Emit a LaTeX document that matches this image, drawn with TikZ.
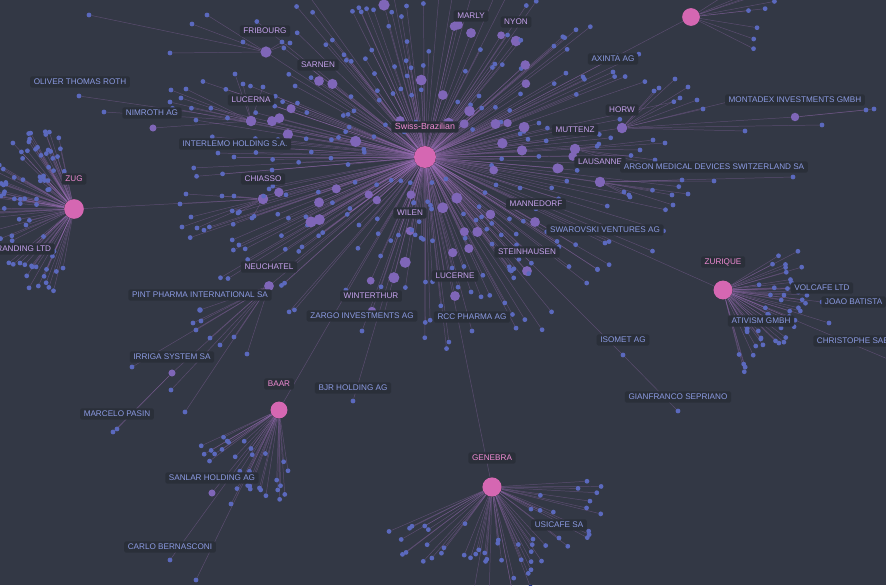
\documentclass[tikz,border=0pt]{standalone}
\usepackage{fontspec}
\setsansfont{Liberation Sans}
\usepackage{xcolor}
\definecolor{nwBg}{HTML}{333845}
\definecolor{nwTag}{HTML}{2A2F39}
\definecolor{nwBlue}{HTML}{5B69BE}
\definecolor{nwPurple}{HTML}{7F66B8}
\definecolor{nwPink}{HTML}{D567B2}
\definecolor{nwTie}{HTML}{A774C4}
\definecolor{nwBlueText}{HTML}{8C9BE3}
\definecolor{nwLilac}{HTML}{C6A2EE}
\definecolor{nwPinkText}{HTML}{F08BD4}
\pgfdeclarelayer{back}
\pgfdeclarelayer{ties}
\pgfsetlayers{back,ties,main}
\tikzset{
  hub/.style={circle,fill=nwPink,inner sep=0pt,minimum size=#1},
  mid/.style={circle,fill=nwPurple,inner sep=0pt,minimum size=#1},
  mid/.default=7pt,
  leaf/.style={circle,fill=nwBlue,inner sep=0pt,minimum size=#1},
  leaf/.default=3.4pt,
  tie/.style={draw=nwTie,line width=0.35pt,draw opacity=0.34},
  tag/.style={fill=nwTag,rounded corners=1.2pt,inner xsep=2.6pt,inner ysep=2pt,
    text height=4.1pt,text depth=0pt,font=\sffamily\fontsize{5.8}{6}\selectfont},
  hubtag/.style={tag,text=nwPinkText},
  citytag/.style={tag,text=nwLilac},
  firmtag/.style={tag,text=nwBlueText},
}

\begin{document}
\begin{tikzpicture}[x=0.025cm,y=-0.025cm]
  \useasboundingbox (0,0) rectangle (886,585);
  \begin{pgfonlayer}{back}
    \fill[nwBg] (0,0) rectangle (886,585);
  \end{pgfonlayer}
  \pgfmathsetseed{2024}

  % hubs
  \node[hub=15.6pt] (swiss) at (425,157) {};
  \node[hub=14pt] (zug) at (74,209) {};
  \node[hub=13.4pt] (zurique) at (723,290) {};
  \node[hub=12pt] (baar) at (279,410) {};
  \node[hub=13.6pt] (genebra) at (492,487) {};
  \node[hub=12.6pt] (tophub) at (691,17) {};

  % cities
  \node[mid=8pt] (topmid) at (384,5) {};
  \node[mid=8pt] (fribourg) at (266,52) {};
  \node[mid] (sarnen) at (319,81) {};
  \node[mid=7.5pt] (lucerna) at (251,121) {};
  \node[mid] (marly) at (471,33) {};
  \node[mid=7.5pt] (nyon) at (516,41) {};
  \node[mid=7.5pt] (chiasso) at (263,199) {};
  \node[mid] (neuchatel) at (269,286) {};
  \node[mid=6pt] (wilen) at (410,231) {};
  \node[mid] (lucerne) at (455,296) {};
  \node[mid=6pt] (winterthur) at (372,311) {};
  \node[mid=7.5pt] (muttenz) at (575,149) {};
  \node[mid=7.5pt] (horw) at (622,128) {};
  \node[mid=7.5pt] (lausanne) at (600,182) {};
  \node[mid] (mannedorf) at (535,222) {};
  \node[mid] (steinhausen) at (527,271) {};

  % firms and people
  \node[leaf] (oliver) at (79,96) {};
  \node[mid=5pt] (nimroth) at (153,128) {};
  \node[leaf] (interlemo) at (234,157) {};
  \node[leaf] (axinta) at (613,72) {};
  \node[mid=6pt] (montadex) at (795,117) {};
  \node[leaf] (argon) at (714,181) {};
  \node[leaf] (swarovski) at (605,243) {};
  \node[leaf] (volcafe) at (822,302) {};
  \node[leaf] (joao) at (829,323) {};
  \node[leaf] (christophe) at (895,362) {};
  \node[leaf] (ativism) at (761,338) {};
  \node[leaf] (isomet) at (623,355) {};
  \node[leaf] (gianfranco) at (678,411) {};
  \node[leaf] (zargo) at (362,331) {};
  \node[leaf] (rcc) at (472,331) {};
  \node[leaf=4pt] (pint) at (200,310) {};
  \node[mid=5pt] (irriga) at (172,373) {};
  \node[leaf] (bjr) at (353,401) {};
  \node[leaf] (marcelo) at (117,429) {};
  \node[mid=5pt] (sanlar) at (212,493) {};
  \node[leaf] (carlo) at (170,560) {};
  \node[leaf] (usicafe) at (559,538) {};
  \node[leaf] (branding) at (20,263) {};

  % spray round Swiss-Brazilian
  \foreach \i in {1,...,290}{
    \pgfmathsetmacro\ang{360*rnd}
    \pgfmathsetmacro\u{rnd}
    \pgfmathsetmacro\rad{22+172*(0.5*\u+0.5*sqrt(\u))}
    \node[leaf] (sb\i) at ({425+1.35*\rad*cos(\ang)},{157+\rad*sin(\ang)}) {};
  }
  \foreach \i in {1,...,44}{
    \pgfmathsetmacro\ang{360*rnd}
    \pgfmathsetmacro\rad{30+110*rnd}
    \pgfmathsetmacro\sz{5.5+2.5*rnd}
    \node[mid=\sz pt] (sm\i) at ({425+1.3*\rad*cos(\ang)},{157+\rad*sin(\ang)}) {};
  }

  % other hubs
  \foreach \i in {1,...,90}{
    \pgfmathsetmacro\ang{100+160*rnd}
    \pgfmathsetmacro\rad{22+70*sqrt(rnd)}
    \node[leaf] (zg\i) at ({74+\rad*cos(\ang)},{209+\rad*sin(\ang)}) {};
  }
  \foreach \i in {1,...,50}{
    \pgfmathsetmacro\ang{-38+118*rnd}
    \pgfmathsetmacro\rad{30+55*sqrt(rnd)}
    \node[leaf] (zr\i) at ({723+\rad*cos(\ang)},{290+\rad*sin(\ang)}) {};
  }
  \foreach \i in {1,...,30}{
    \pgfmathsetmacro\ang{80+80*rnd}
    \pgfmathsetmacro\rad{35+55*sqrt(rnd)}
    \node[leaf] (br\i) at ({279+\rad*cos(\ang)},{410+\rad*sin(\ang)}) {};
  }
  \foreach \i in {1,...,55}{
    \pgfmathsetmacro\ang{-8+168*rnd}
    \pgfmathsetmacro\rad{28+85*sqrt(rnd)}
    \node[leaf] (gn\i) at ({492+\rad*cos(\ang)},{487+\rad*sin(\ang)}) {};
  }
  \foreach \i in {1,...,10}{
    \pgfmathsetmacro\ang{-35+65*rnd}
    \pgfmathsetmacro\rad{55+35*rnd}
    \node[leaf] (th\i) at ({691+\rad*cos(\ang)},{17+\rad*sin(\ang)}) {};
  }

  % leaves hanging on cities
  \foreach \x/\y [count=\k] in {89/15,170/53,192/24,207/15,243/42,282/42,290/43}
    \node[leaf] (fr\k) at (\x,\y) {};
  \foreach \x/\y [count=\k] in {104/112,171/90,181/98,186/89,170/102,235/74,243/84,263/87}
    \node[leaf] (lc\k) at (\x,\y) {};
  \foreach \x/\y [count=\k] in {186/194,180/204,191/217,182/227,197/228,222/196,234/196,238/213,252/218}
    \node[leaf] (ch\k) at (\x,\y) {};
  \foreach \x/\y [count=\k] in {654/91,675/79,688/87,659/88,680/98,697/100,703/109,745/131,822/125,744/98}
    \node[leaf] (hw\k) at (\x,\y) {};
  \foreach \x/\y [count=\k] in {866/110,874/109}
    \node[leaf] (md\k) at (\x,\y) {};
  \foreach \x/\y [count=\k] in {653/140,665/143,655/160,665/166,640/150,610/160}
    \node[leaf] (mt\k) at (\x,\y) {};
  \foreach \x/\y [count=\k] in {682/180,793/177,672/195,673/205,624/192,630/197,688/194}
    \node[leaf] (ls\k) at (\x,\y) {};
  \foreach \x/\y [count=\k] in {193/323,196/330,201/321,210/338,220/345,234/337,247/354,132/367,171/390,185/412}
    \node[leaf] (nc\k) at (\x,\y) {};
  \foreach \x/\y [count=\k] in {113/432,196/580,231/504}
    \node[leaf] (ex\k) at (\x,\y) {};

  \begin{pgfonlayer}{ties}
    \foreach \n in {topmid,fribourg,sarnen,lucerna,marly,nyon,chiasso,neuchatel,
        wilen,lucerne,winterthur,muttenz,horw,lausanne,mannedorf,steinhausen,
        interlemo,axinta,swarovski,zargo,rcc,isomet,bjr,zurique,baar,genebra,tophub}
      \draw[tie] (swiss) -- (\n);
    \draw[tie] (zug) -- (chiasso);
    \draw[tie] (zug) -- (branding);
    \draw[tie] (lucerna) -- (oliver);
    \draw[tie] (lucerna) -- (nimroth);
    \draw[tie] (horw) -- (montadex);
    \draw[tie] (lausanne) -- (argon);
    \draw[tie] (neuchatel) -- (pint);
    \draw[tie] (neuchatel) -- (irriga);
    \draw[tie] (irriga) -- (marcelo);
    \draw[tie] (isomet) -- (gianfranco);
    \foreach \n in {volcafe,joao,christophe,ativism}
      \draw[tie] (zurique) -- (\n);
    \draw[tie] (genebra) -- (usicafe);
    \draw[tie] (baar) -- (sanlar);
    \draw[tie] (baar) -- (carlo);
    \draw[tie] (irriga) -- (ex1);
    \draw[tie] (baar) -- (ex2);
    \draw[tie] (baar) -- (ex3);
    \foreach \i in {1,...,290} \draw[tie] (swiss) -- (sb\i);
    \foreach \i in {1,...,44} \draw[tie] (swiss) -- (sm\i);
    \foreach \i in {1,...,90} \draw[tie] (zug) -- (zg\i);
    \foreach \i in {1,...,50} \draw[tie] (zurique) -- (zr\i);
    \foreach \i in {1,...,30} \draw[tie] (baar) -- (br\i);
    \foreach \i in {1,...,55} \draw[tie] (genebra) -- (gn\i);
    \foreach \i in {1,...,10} \draw[tie] (tophub) -- (th\i);
    \foreach \i in {1,...,7} \draw[tie] (fribourg) -- (fr\i);
    \foreach \i in {1,...,8} \draw[tie] (lucerna) -- (lc\i);
    \foreach \i in {1,...,9} \draw[tie] (chiasso) -- (ch\i);
    \foreach \i in {1,...,10} \draw[tie] (horw) -- (hw\i);
    \foreach \i in {1,2} \draw[tie] (montadex) -- (md\i);
    \foreach \i in {1,...,6} \draw[tie] (muttenz) -- (mt\i);
    \foreach \i in {1,...,7} \draw[tie] (lausanne) -- (ls\i);
    \foreach \i in {1,...,10} \draw[tie] (neuchatel) -- (nc\i);
  \end{pgfonlayer}

  % labels
  \node[hubtag,font=\sffamily\fontsize{6.3}{7}\selectfont] (swisstag) at (425,127) {Swiss-Brazilian};
  \node[hubtag] (zugtag) at (74,179) {ZUG};
  \node[hubtag] (zuriquetag) at (723,262) {ZURIQUE};
  \node[hubtag] (baartag) at (279,384) {BAAR};
  \node[hubtag] (genebratag) at (492,458) {GENEBRA};

  \node[citytag] (fribourgtag) at (265,31) {FRIBOURG};
  \node[citytag] (sarnentag) at (318,65) {SARNEN};
  \node[citytag] (lucernatag) at (251,100) {LUCERNA};
  \node[citytag] (marlytag) at (471,16) {MARLY};
  \node[citytag] (nyontag) at (516,22) {NYON};
  \node[citytag] (chiassotag) at (263,179) {CHIASSO};
  \node[citytag] (neuchateltag) at (269,267) {NEUCHATEL};
  \node[citytag] (wilentag) at (410,213) {WILEN};
  \node[citytag] (lucernetag) at (455,276) {LUCERNE};
  \node[citytag] (winterthurtag) at (371,296) {WINTERTHUR};
  \node[citytag] (muttenztag) at (575,130) {MUTTENZ};
  \node[citytag] (horwtag) at (622,110) {HORW};
  \node[citytag] (lausannetag) at (600,162) {LAUSANNE};
  \node[citytag] (mannedorftag) at (536,204) {MANNEDORF};
  \node[citytag] (steinhausentag) at (527,252) {STEINHAUSEN};
  \node[citytag,anchor=east] (brandingtag) at (55,249) {RANDING LTD};

  \node[firmtag] (olivertag) at (80,82) {OLIVER THOMAS ROTH};
  \node[firmtag] (nimrothtag) at (152,113) {NIMROTH AG};
  \node[firmtag] (interlemotag) at (235,144) {INTERLEMO HOLDING S.A.};
  \node[firmtag] (axintatag) at (613,59) {AXINTA AG};
  \node[firmtag] (montadextag) at (795,100) {MONTADEX INVESTMENTS GMBH};
  \node[firmtag] (argontag) at (714,167) {ARGON MEDICAL DEVICES SWITZERLAND SA};
  \node[firmtag] (swarovskitag) at (605,230) {SWAROVSKI VENTURES AG};
  \node[firmtag] (volcafetag) at (822,288) {VOLCAFE LTD};
  \node[firmtag,anchor=west] (joaotag) at (821,302) {JOAO BATISTA};
  \node[firmtag] (ativismtag) at (761,321) {ATIVISM GMBH};
  \node[firmtag,anchor=west] (christophetag) at (813,341) {CHRISTOPHE SAB};
  \node[firmtag] (isomettag) at (623,340) {ISOMET AG};
  \node[firmtag] (gianfrancotag) at (678,397) {GIANFRANCO SEPRIANO};
  \node[firmtag] (zargotag) at (362,316) {ZARGO INVESTMENTS AG};
  \node[firmtag] (rcctag) at (472,317) {RCC PHARMA AG};
  \node[firmtag] (pinttag) at (200,295) {PINT PHARMA INTERNATIONAL SA};
  \node[firmtag] (irrigatag) at (172,357) {IRRIGA SYSTEM SA};
  \node[firmtag] (bjrtag) at (353,388) {BJR HOLDING AG};
  \node[firmtag] (marcelotag) at (117,414) {MARCELO PASIN};
  \node[firmtag] (sanlartag) at (212,478) {SANLAR HOLDING AG};
  \node[firmtag] (carlotag) at (170,547) {CARLO BERNASCONI};
  \node[firmtag] (usicafetag) at (559,525) {USICAFE SA};
\end{tikzpicture}
\end{document}
